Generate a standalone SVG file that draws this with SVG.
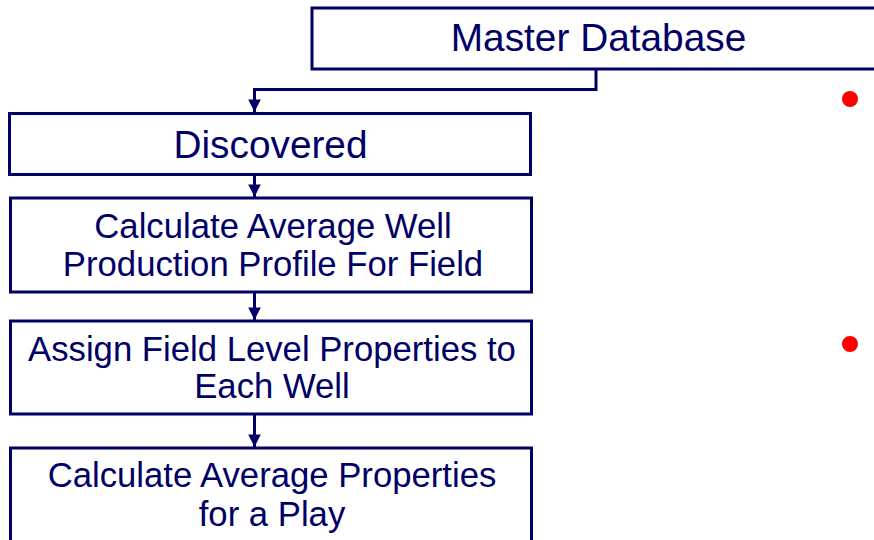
<svg xmlns="http://www.w3.org/2000/svg" width="874" height="540" viewBox="0 0 874 540">
<defs>
<style>
.box{fill:#fff;stroke:#000066;stroke-width:3}
.t{font-family:"Liberation Sans",Arial,sans-serif;fill:#000066;text-anchor:middle}
.big{font-size:38.8px}
.mid{font-size:34.7px}
.c{fill:none;stroke:#000066;stroke-width:3}
.dot{fill:#ff0000}
</style>
<marker id="ah" viewBox="0 0 10 10" refX="10" refY="5" markerWidth="4.2" markerHeight="4.2" markerUnits="strokeWidth" orient="auto">
<path d="M0,0 L10,5 L0,10 z" fill="#000066"/>
</marker>
</defs>
<rect width="874" height="540" fill="#fff"/>
<g id="master">
<rect class="box" x="312" y="8" width="580" height="61"/>
<text class="t big" x="598.5" y="51">Master Database</text>
</g>
<g id="discovered">
<rect class="box" x="9.5" y="113.5" width="521" height="61"/>
<text class="t big" x="270.5" y="158">Discovered</text>
</g>
<g id="calc-well">
<rect class="box" x="10.5" y="198" width="521" height="94"/>
<text class="t mid" x="273" y="238">Calculate Average Well</text>
<text class="t mid" x="273" y="276">Production Profile For Field</text>
</g>
<g id="assign">
<rect class="box" x="10.5" y="321" width="521" height="93"/>
<text class="t mid" x="272" y="361">Assign Field Level Properties to</text>
<text class="t mid" x="272" y="398">Each Well</text>
</g>
<g id="calc-play">
<rect class="box" x="10.5" y="448" width="521" height="110"/>
<text class="t mid" x="272" y="487">Calculate Average Properties</text>
<text class="t mid" x="272" y="526">for a Play</text>
</g>
<g id="connectors">
<path class="c" d="M596,69 V89.5 H254.5 V112" marker-end="url(#ah)"/>
<path class="c" d="M254.5,175 V197" marker-end="url(#ah)"/>
<path class="c" d="M254.5,292 V320" marker-end="url(#ah)"/>
<path class="c" d="M254.5,414 V447" marker-end="url(#ah)"/>
</g>
<g id="bullets">
<circle class="dot" cx="850" cy="99" r="8"/>
<circle class="dot" cx="850" cy="344" r="8"/>
</g>
</svg>
